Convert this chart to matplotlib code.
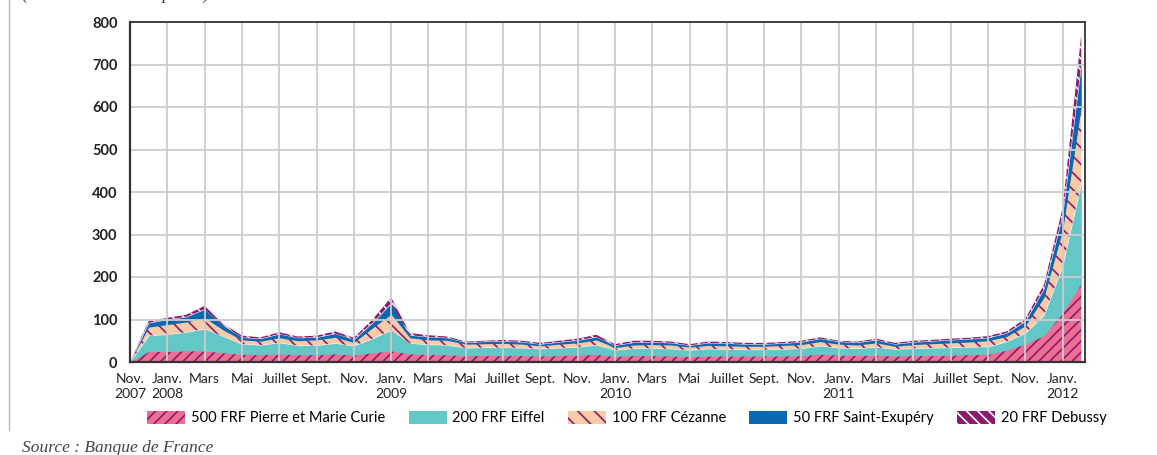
import numpy as np
import matplotlib
matplotlib.use("Agg")
import matplotlib.pyplot as plt
from matplotlib.lines import Line2D

# Monthly data, Nov. 2007 -> Feb. 2012 (thousands of notes)
months = np.arange(52)
frf500 = [0, 25, 25, 26, 26, 22, 18, 17, 19, 17, 17, 19, 16, 22, 26, 19, 18, 17, 15, 15,
          15, 15, 14, 15, 16, 18, 13, 15, 15, 14, 13, 14, 14, 14, 14, 14, 15, 18, 16, 15,
          16, 14, 15, 15, 16, 17, 18, 28, 42, 62, 115, 185]
frf200 = [0, 37, 40, 44, 52, 38, 24, 23, 26, 22, 22, 25, 22, 33, 49, 25, 23, 23, 18, 19,
          19, 18, 17, 18, 19, 22, 15, 17, 17, 17, 15, 17, 16, 15, 15, 16, 17, 20, 17, 17,
          19, 16, 17, 18, 18, 18, 18, 20, 26, 48, 110, 235]
frf100 = [0, 20, 23, 24, 26, 15, 10, 9, 12, 11, 13, 14, 8, 25, 37, 13, 11, 11, 9, 9,
          10, 9, 7, 9, 10, 12, 6, 8, 9, 9, 7, 8, 8, 8, 8, 9, 9, 10, 9, 8,
          10, 7, 9, 10, 11, 12, 14, 12, 17, 42, 85, 180]
frf50 = [0, 10, 12, 12, 20, 11, 6, 6, 9, 7, 6, 9, 7, 12, 26, 6, 7, 6, 4, 5,
         5, 5, 4, 5, 6, 7, 5, 6, 6, 5, 4, 6, 6, 5, 5, 5, 6, 7, 6, 6,
         7, 5, 6, 6, 7, 7, 7, 8, 11, 20, 35, 100]
frf20 = [0, 4, 4, 5, 8, 4, 4, 3, 4, 3, 4, 5, 4, 8, 14, 5, 4, 3, 2, 2,
         3, 3, 3, 3, 4, 5, 3, 4, 3, 3, 3, 3, 3, 3, 3, 3, 3, 3, 2, 2,
         3, 3, 3, 3, 3, 3, 4, 4, 6, 10, 17, 70]

series_names = ["500 FRF Pierre et Marie Curie", "200 FRF Eiffel", "100 FRF Cézanne",
                "50 FRF Saint-Exupéry", "20 FRF Debussy"]

tick_labels = []
cycle = ["Nov.", "Janv.", "Mars", "Mai", "Juillet", "Sept."]
for i, m in enumerate(range(0, 52, 2)):
    lab = cycle[i % 6]
    if i == 0:
        lab = "Nov.\n2007"
    elif lab == "Janv.":
        year = 2007 + (m + 10) // 12
        lab = "Janv.\n%d" % year
    tick_labels.append(lab)

plt.rcParams['font.family'] = ['Lato', 'DejaVu Sans']
plt.rcParams['hatch.linewidth'] = 1.2

fig = plt.figure(figsize=(11.57, 4.55), dpi=100)
ax = fig.add_axes([130/1157, 93/455, 955/1157, 340/455])

purple = "#8A1B6E"
styles = [
    dict(facecolor="#EC6E92", edgecolor=purple, hatch="///"),
    dict(facecolor="#62C7C5", edgecolor="#62C7C5", hatch=None),
    dict(facecolor="#FBCBA8", edgecolor=purple, hatch="\\\\"),
    dict(facecolor="#0A67B2", edgecolor="#0A67B2", hatch=None),
    dict(facecolor=purple, edgecolor="white", hatch="\\\\\\"),
]

data = np.array([frf500, frf200, frf100, frf50, frf20], dtype=float)
cum = np.vstack([np.zeros(len(months)), np.cumsum(data, axis=0)])
handles = []
for k in range(5):
    h = ax.fill_between(months, cum[k], cum[k + 1], linewidth=0, zorder=2,
                        label=series_names[k], **styles[k])
    handles.append(h)

ax.set_xlim(0, 51.2)
ax.set_ylim(0, 800)
ax.set_yticks(range(0, 801, 100))
ax.set_xticks(range(0, 52, 2))
ax.set_xticklabels(tick_labels, fontsize=10, color="#222222", linespacing=1.3)
ax.tick_params(axis='both', length=0)
ax.tick_params(axis='x', pad=8)
ax.tick_params(axis='y', pad=9)
for lab in ax.get_yticklabels():
    lab.set_fontsize(10.5)
    lab.set_fontweight('bold')
    lab.set_color("#222222")

ax.grid(True, color="#CCCCCC", linewidth=1.3, zorder=3)
ax.set_axisbelow(False)
for sp in ax.spines.values():
    sp.set_color("#333333")
    sp.set_linewidth(1.3)
    sp.set_zorder(4)
ax.spines['left'].set_linewidth(1.6)
ax.spines['bottom'].set_linewidth(1.6)

fig.legend(handles=handles, loc='center', bbox_to_anchor=(627/1157, 1 - 418/455),
           ncol=5, frameon=False, fontsize=10.5, handlelength=2.6, handleheight=1.0,
           columnspacing=1.6, handletextpad=0.4)

fig.text(22/1157, 1 + 1/455, "(en milliers de coupures)", fontsize=13.5, style='italic',
         family=['Liberation Serif'], va='baseline', ha='left', color="#444444")
fig.text(22/1157, 1 - 452/455, "Source : Banque de France", fontsize=12.5, style='italic',
         family=['Liberation Serif'], va='baseline', ha='left', color="#444444")
fig.add_artist(Line2D([9/1157, 9/1157], [1, 1 - 430/455], transform=fig.transFigure,
                      color="#BBBBBB", linewidth=1))

fig.savefig("out.png", dpi=100)
